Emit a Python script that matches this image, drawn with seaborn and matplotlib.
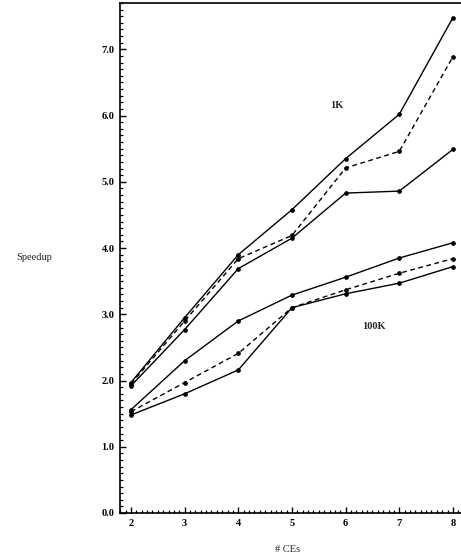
import matplotlib
matplotlib.use("Agg")
import matplotlib.pyplot as plt
from matplotlib.ticker import MultipleLocator, FixedLocator
import seaborn as sns
import pandas as pd

# Number of compute elements
ces = [2, 3, 4, 5, 6, 7, 8]

# 1K problem size
k1_upper = [1.97, 2.95, 3.90, 4.58, 5.35, 6.02, 7.48]
k1_dashed = [1.95, 2.90, 3.84, 4.19, 5.21, 5.46, 6.89]
k1_lower = [1.92, 2.77, 3.69, 4.15, 4.83, 4.86, 5.49]

# 100K problem size
k100_upper = [1.56, 2.30, 2.90, 3.29, 3.56, 3.85, 4.08]
k100_dashed = [1.53, 1.97, 2.41, 3.10, 3.37, 3.62, 3.84]
k100_lower = [1.48, 1.80, 2.16, 3.10, 3.31, 3.47, 3.72]

yticks = [0.0, 1.0, 2.0, 3.0, 4.0, 5.0, 6.0, 7.0]
ytick_labels = ["0.0", "1.0", "2.0", "3.0", "4.0", "5.0", "6.0", "7.0"]

sns.set_style("ticks")
plt.rcParams["font.family"] = ["Liberation Serif", "DejaVu Serif"]

fig = plt.figure(figsize=(4.61, 5.59), dpi=100)
ax = fig.add_axes([120 / 461, 46 / 559, 341 / 461, 510 / 559])

series = [
    (k1_upper, "-"), (k1_dashed, "--"), (k1_lower, "-"),
    (k100_upper, "-"), (k100_dashed, "--"), (k100_lower, "-"),
]
for vals, ls in series:
    df = pd.DataFrame({"ce": ces, "speedup": vals})
    sns.lineplot(data=df, x="ce", y="speedup", ax=ax, color="black",
                 linewidth=1.0, marker="o", markersize=2.6,
                 markeredgecolor="black")
    if ls == "--":
        ax.lines[-1].set_dashes((3.5, 2.5))

ax.set_xlim(1.795, 8.15)
ax.set_ylim(0, 7.7)

ax.xaxis.set_major_locator(FixedLocator(ces))
ax.xaxis.set_minor_locator(MultipleLocator(0.1))
ax.yaxis.set_major_locator(FixedLocator(yticks))
ax.yaxis.set_minor_locator(MultipleLocator(0.1))
ax.set_yticklabels(ytick_labels)

ax.tick_params(axis="both", which="major", direction="in", length=4, width=1,
               labelsize=7.5, colors="black", pad=4)
ax.tick_params(axis="both", which="minor", direction="in", length=2, width=0.9,
               colors="black")
for lab in ax.get_xticklabels() + ax.get_yticklabels():
    lab.set_fontweight("bold")

for side in ("left", "bottom", "top"):
    ax.spines[side].set_visible(True)
    ax.spines[side].set_color("black")
    ax.spines[side].set_linewidth(1.2)
ax.spines["right"].set_visible(False)
ax.tick_params(top=False, right=False, which="both")

ax.set_xlabel("")
ax.set_ylabel("")
fig.text(34 / 461, 1 - 258 / 559, "Speedup", ha="center", va="center", fontsize=7.5)
fig.text(288 / 461, 1 - 550 / 559, "# CEs", ha="center", va="center", fontsize=7.5)

ax.text(5.84, 6.16, "1K", ha="center", va="center", fontsize=7.5, fontweight="bold")
ax.text(6.53, 2.82, "100K", ha="center", va="center", fontsize=7.5, fontweight="bold")

fig.savefig("out.png", dpi=100)
